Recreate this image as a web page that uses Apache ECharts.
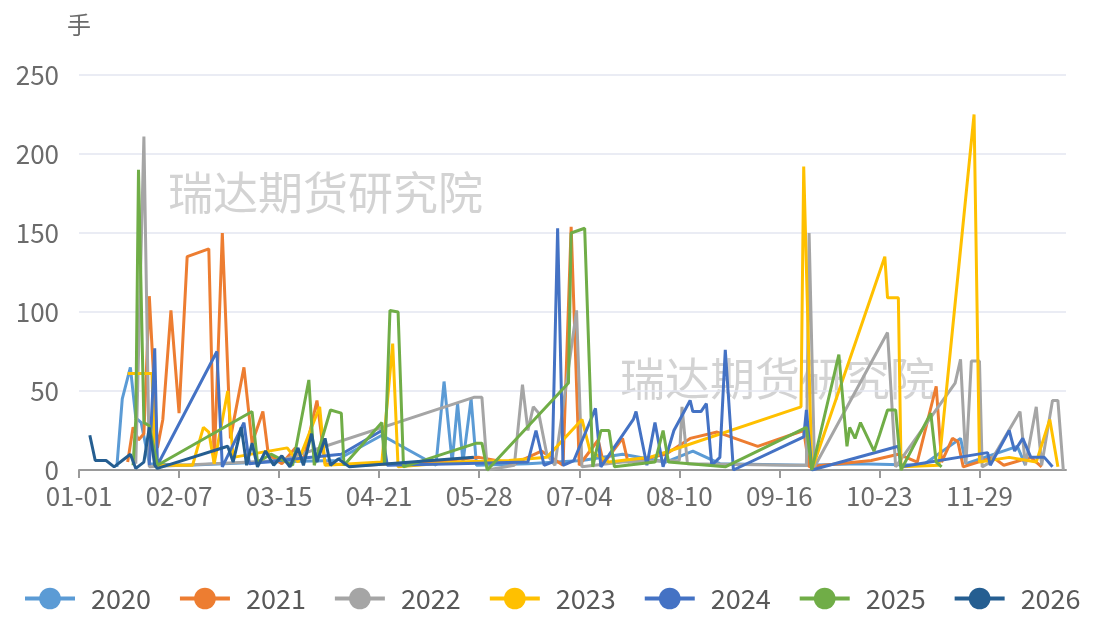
<!DOCTYPE html>
<html>
<head>
<meta charset="utf-8">
<script src="https://cdn.jsdelivr.net/npm/echarts@6/dist/echarts.min.js"></script>
<style>
  html, body { margin: 0; padding: 0; background: #fff; }
  #main { width: 1097px; height: 617px; }
</style>
</head>
<body>
<div id="main"></div>
<script>
// 年份
var years = ['2020', '2021', '2022', '2023', '2024', '2025', '2026'];
var colors = ['#5B9BD5', '#ED7D31', '#A5A5A5', '#FFC000', '#4472C4', '#70AD47', '#255E91'];

// x轴：全年日期 MM-DD（按闰年）
var monthDays = [31, 29, 31, 30, 31, 30, 31, 31, 30, 31, 30, 31];
var dates = [];
monthDays.forEach(function (n, m) {
  for (var d = 1; d <= n; d++) {
    dates.push((m < 9 ? '0' : '') + (m + 1) + '-' + (d < 10 ? '0' : '') + d);
  }
});

// 各年数据 [日期, 手]
var s2020 = [['01-15',2],['01-17',45],['01-20',65],['01-22',33],['01-24',30],['01-27',4],['02-10',3],['03-10',5],['04-05',6],['04-22',22],['05-12',3],['05-15',56],['05-18',5],['05-20',42],['05-22',5],['05-25',45],['05-27',3],['06-15',4],['07-05',6],['07-20',10],['08-05',5],['08-15',12],['08-25',4],['09-26',3],['10-15',4],['11-08',3],['11-22',20],['11-24',4],['12-13',15],['12-16',3]];
var s2021 = [['01-19',5],['01-21',27],['01-23',19],['01-25',23],['01-27',110],['01-30',14],['02-01',32],['02-04',101],['02-07',36],['02-10',135],['02-18',140],['02-20',4],['02-23',150],['02-26',20],['03-02',65],['03-05',17],['03-09',37],['03-11',10],['03-16',4],['03-21',14],['03-24',6],['03-29',44],['04-01',4],['04-15',3],['05-10',5],['05-28',8],['06-10',4],['06-20',12],['06-28',3],['07-01',154],['07-04',3],['07-11',19],['07-13',4],['07-20',20],['07-22',5],['08-05',10],['08-14',20],['08-24',24],['09-08',15],['09-25',25],['09-27',2],['10-20',6],['10-30',10],['11-06',5],['11-13',53],['11-15',5],['11-19',20],['11-21',18],['11-23',2],['12-04',8],['12-08',3],['12-18',8],['12-22',2]];
var s2022 = [['01-22',4],['01-25',211],['01-27',2],['03-16',6],['05-26',46],['05-29',46],['05-31',0],['06-10',3],['06-13',54],['06-15',25],['06-17',40],['06-19',36],['06-22',10],['06-25',3],['07-03',101],['07-05',2],['07-20',5],['08-10',6],['08-11',40],['08-13',4],['09-20',3],['09-26',3],['09-27',150],['09-29',2],['10-26',87],['10-29',2],['11-20',55],['11-22',70],['11-24',4],['11-26',69],['11-29',69],['11-30',2],['12-03',5],['12-14',37],['12-16',3],['12-20',40],['12-22',3],['12-26',44],['12-28',44],['12-30',0]];
var s2023 = [['01-19',61],['01-28',61],['01-29',3],['02-12',3],['02-16',27],['02-18',24],['02-20',4],['02-25',50],['02-27',8],['03-18',14],['03-22',5],['03-30',40],['04-01',3],['04-22',5],['04-26',80],['04-28',2],['05-20',5],['06-08',6],['06-22',8],['07-05',32],['07-08',12],['07-15',5],['07-30',8],['08-08',13],['09-24',40],['09-25',192],['09-28',0],['10-25',135],['10-26',109],['10-30',109],['10-31',2],['11-14',3],['11-27',225],['11-29',5],['12-10',8],['12-20',5],['12-25',32],['12-28',2]];
var s2024 = [['01-27',3],['01-29',77],['01-30',3],['02-21',75],['02-23',2],['03-02',30],['03-04',4],['03-15',6],['04-07',10],['04-22',25],['04-24',3],['05-20',4],['06-15',5],['06-18',25],['06-21',3],['06-24',5],['06-26',153],['06-28',3],['07-02',6],['07-10',39],['07-12',2],['07-24',32],['07-25',37],['07-29',3],['08-01',30],['08-04',2],['08-08',25],['08-14',44],['08-15',37],['08-18',37],['08-20',42],['08-22',3],['08-25',8],['08-27',76],['08-30',0],['09-25',21],['09-26',38],['09-28',0],['10-30',15],['10-31',2],['12-02',11],['12-03',3],['12-10',25],['12-12',12],['12-15',20],['12-18',8],['12-23',8],['12-26',2]];
var s2025 = [['01-21',3],['01-22',32],['01-23',190],['01-25',30],['01-27',28],['01-30',3],['03-05',37],['03-07',5],['03-12',10],['03-20',3],['03-26',57],['03-28',3],['04-03',38],['04-07',36],['04-08',3],['04-22',30],['04-23',3],['04-25',101],['04-28',100],['04-30',2],['05-27',17],['05-29',17],['05-31',0],['06-30',55],['07-01',150],['07-06',153],['07-09',2],['07-12',25],['07-15',25],['07-17',2],['08-01',5],['08-04',25],['08-06',5],['08-27',2],['09-26',27],['09-28',0],['10-08',73],['10-11',15],['10-12',27],['10-14',20],['10-16',30],['10-21',12],['10-23',22],['10-26',38],['10-29',38],['10-31',0],['11-11',36],['11-13',5],['11-15',2]];
var s2026 = [['01-05',22],['01-07',6],['01-11',6],['01-14',2],['01-17',6],['01-20',10],['01-22',1],['01-25',5],['01-27',27],['01-29',3],['01-30',1],['02-25',15],['02-27',5],['03-01',27],['03-03',3],['03-05',17],['03-07',2],['03-10',12],['03-13',3],['03-16',9],['03-19',2],['03-22',14],['03-24',3],['03-27',23],['03-29',5],['04-01',20],['04-03',3],['04-06',7],['04-10',2],['05-26',8]];

var allData = [s2020, s2021, s2022, s2023, s2024, s2025, s2026];

var font = '"Noto Sans CJK SC", "Noto Sans", sans-serif';

var myChart = echarts.init(document.getElementById('main'));

var option = {
  animation: false,
  color: colors,
  textStyle: { fontFamily: font },
  grid: { left: 79, right: 31, top: 75, bottom: 147, containLabel: false },
  legend: {
    data: years,
    bottom: 0,
    left: 18,
    itemWidth: 50,
    itemHeight: 27,
    itemGap: 27,
    lineStyle: { width: 4 },
    textStyle: { fontSize: 27, color: '#595959', fontFamily: font, padding: [0, 0, 0, 11] }
  },
  // 水印
  graphic: [
    { type: 'text', left: 168, top: 170, silent: true,
      style: { text: '瑞达期货研究院', font: '45px "Noto Sans CJK SC"', fill: 'rgba(150,150,150,0.42)' } },
    { type: 'text', left: 620, top: 356, silent: true,
      style: { text: '瑞达期货研究院', font: '45px "Noto Sans CJK SC"', fill: 'rgba(150,150,150,0.42)' } }
  ],
  xAxis: {
    type: 'category',
    data: dates,
    boundaryGap: false,
    axisLine: { lineStyle: { color: '#9a9a9a', width: 2 } },
    axisTick: { interval: 36, length: 8, lineStyle: { color: '#9a9a9a', width: 2 } },
    axisLabel: { interval: 36, color: '#6b6b6b', fontSize: 26, margin: 13 }
  },
  yAxis: {
    type: 'value',
    name: '手',
    nameGap: 38,
    nameTextStyle: { color: '#6b6b6b', fontSize: 24, align: 'center' },
    min: 0,
    max: 250,
    interval: 50,
    axisLine: { show: false },
    axisTick: { show: false },
    axisLabel: { color: '#6b6b6b', fontSize: 26, margin: 20 },
    splitLine: { lineStyle: { color: '#e3e6f0', width: 1.5 } }
  },
  series: years.map(function (y, i) {
    return {
      name: y,
      type: 'line',
      data: allData[i],
      symbol: 'circle',
      showSymbol: false,
      lineStyle: { width: 3 },
      emphasis: { disabled: true }
    };
  })
};

myChart.setOption(option);
</script>
</body>
</html>
